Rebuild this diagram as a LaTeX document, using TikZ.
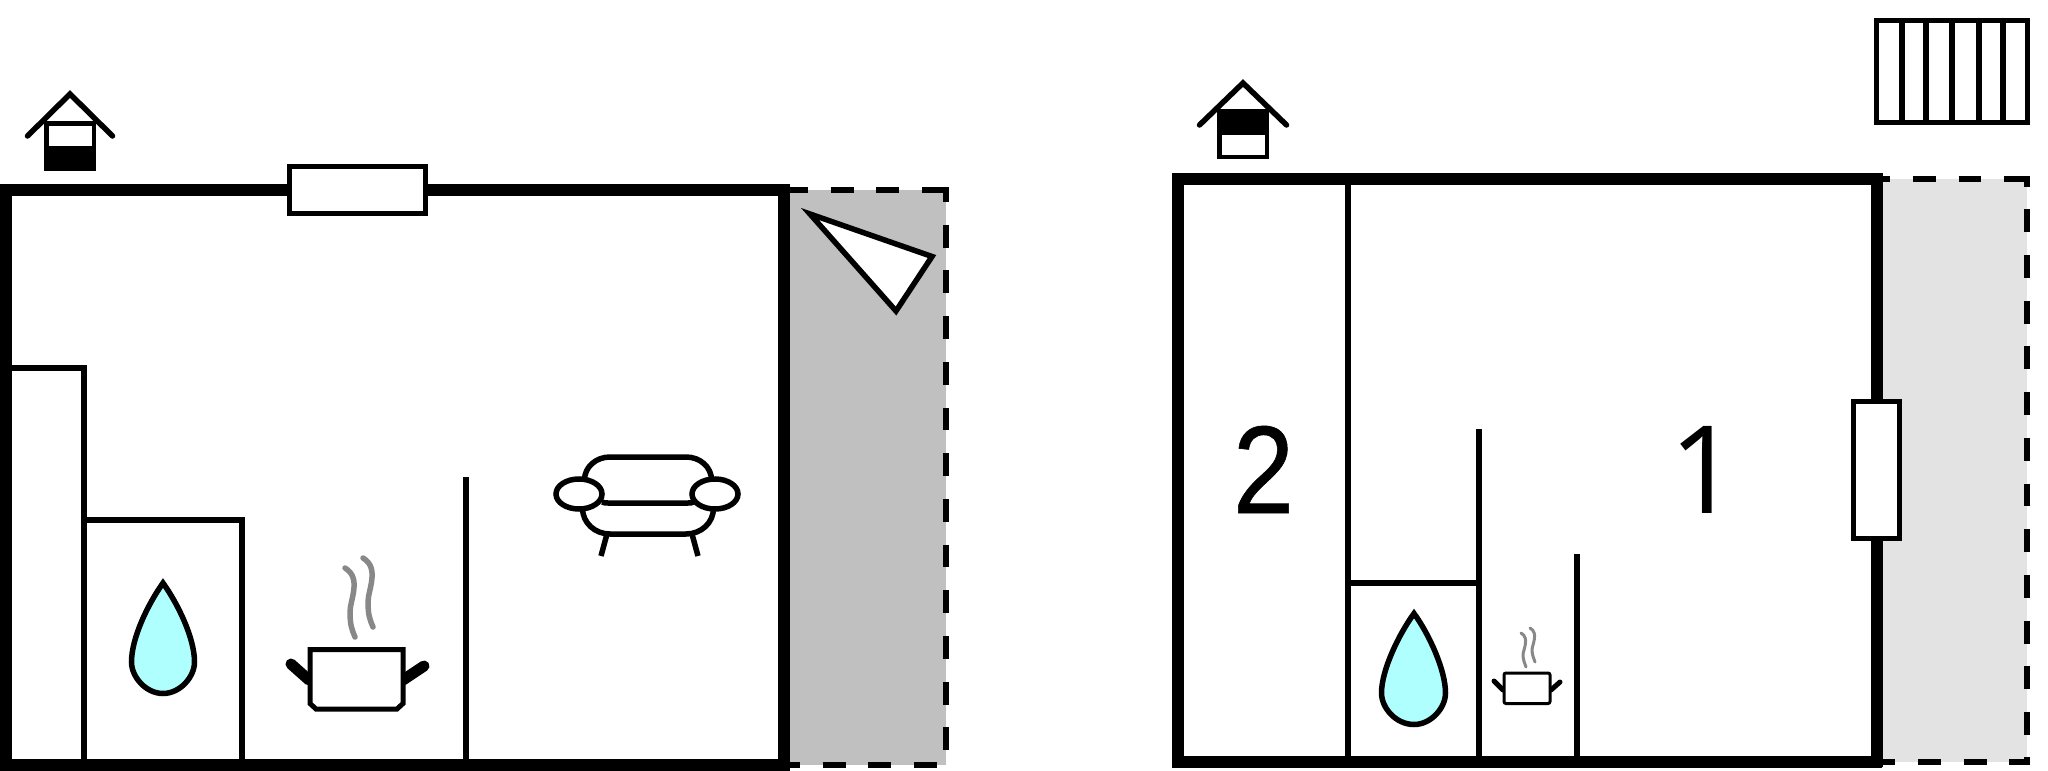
\documentclass[tikz,border=0pt]{standalone}
\usepackage{fontspec}
\newfontfamily\digittwo{Liberation Sans}[FakeBold=0.5]
\newfontfamily\digitone{Open Sans}
\tikzset{
  wall/.style={line width=12pt,line cap=butt,line join=miter},
  inner/.style={line width=6pt},
  fineline/.style={line width=5.5pt},
  win/.style={line width=5pt,fill=white},
  sofaarm/.style={line width=5.5pt,fill=white},
  dashwall/.style={line width=6pt,dash pattern=on 22.85pt off 22.85pt},
  drop/.style={line width=5.5pt,fill=dropblue,line join=miter},
  steam/.style={line width=5.5pt,draw=steamgray,line cap=round},
  steamsmall/.style={line width=3pt,draw=steamgray,line cap=round},
  digit/.style={inner sep=0pt},
}
\definecolor{dropblue}{HTML}{B0FFFF}
\definecolor{steamgray}{HTML}{888888}
\definecolor{terraceA}{HTML}{C0C0C0}
\definecolor{terraceB}{HTML}{E3E3E3}
\begin{document}
\begin{tikzpicture}[x=1pt,y=-1pt]
\useasboundingbox (0,0) rectangle (2048,771);
% LEFT PLAN
\fill[terraceA] (789,190) rectangle (945.5,765);
\draw[dashwall,dash phase=4pt] (789,190) -- (923,190);
\draw[line width=6pt] (923,190) -- (948.5,190);
\draw[dashwall,dash phase=11pt] (945.5,190) -- (945.5,765);
\draw[dashwall,dash phase=12pt] (789,765) -- (940,765);
\draw[wall] (5.75,771) -- (5.75,189.5) -- (783.5,189.5) -- (783.5,771);
\draw[line width=12pt] (0,765) -- (789,765);
\draw[inner,line join=miter] (0,368) -- (84,368) -- (84,765);
\draw[inner,line join=miter] (84,519.7) -- (242,519.7) -- (242,765);
\draw[inner] (466.3,477) -- (466.3,765);
\draw[win] (289.5,166.5) rectangle (425.5,213);
% house
\fill (44,121) rectangle (96,171);
\fill[white] (48.5,125.5) rectangle (91.5,146);
\draw[fineline,line cap=round] (27.5,136) -- (70,94) -- (112.5,136);
% terrace triangle
\draw[win,line width=5.5pt,line join=miter] (810,214) -- (932,256.5) -- (896,311) -- cycle;
% drop
\draw[drop] (163,583) .. controls (148,604) and (131.5,638) .. (131.5,662)
  .. controls (131.5,677) and (146,693.5) .. (163,693.5)
  .. controls (180,693.5) and (194.5,677) .. (194.5,662)
  .. controls (194.5,638) and (178,604) .. (163,583) -- cycle;
% pot
\draw[line width=11pt,line cap=round] (291,664) -- (309,680);
\draw[line width=11pt,line cap=round] (403,680) -- (424,666);
\draw[win] (310,649.5) -- (403,649.5) -- (403,703.5) -- (397,709) -- (316,709) -- (310,703.5) -- cycle;
\draw[steam] (345,568) .. controls (362,578) and (350,600) .. (350,612) .. controls (350,625) and (352,630) .. (355,637);
\draw[steam] (363,558) .. controls (380,568) and (368,590) .. (368,602) .. controls (368,615) and (370,620) .. (373,627);
% sofa
\draw[fineline] (584.5,480) .. controls (584.5,467) and (596,457) .. (610,457) -- (686,457) .. controls (700,457) and (711.5,467) .. (711.5,480);
\draw[fineline] (602,502) .. controls (604,503) and (606,503) .. (608,503) -- (688,503) .. controls (690,503) and (692,503) .. (694,502);
\draw[fineline] (582.5,508) .. controls (582.5,523) and (595,534) .. (610,534) -- (686,534) .. controls (701,534) and (713.5,523) .. (713.5,508);
\draw[fineline] (607,534) -- (601,556);
\draw[fineline] (692,534) -- (698,556);
\draw[sofaarm] (579,494) ellipse [x radius=23,y radius=15];
\draw[sofaarm] (715,494) ellipse [x radius=23,y radius=15];
% RIGHT PLAN
\fill[terraceB] (1882,178.5) rectangle (2027,761.5);
\draw[dashwall,dash phase=14.85pt] (1882,178.5) -- (2004,178.5);
\draw[line width=6pt] (2004,178.5) -- (2030,178.5);
\draw[line width=6pt] (2027,178.5) -- (2027,186.5);
\draw[dashwall,dash phase=14.85pt] (2027,178.5) -- (2027,750);
\draw[dashwall,dash phase=9.7pt] (1882,761.5) -- (2005,761.5);
\draw[line width=6pt] (2009,761.5) -- (2030,761.5);
\draw[line width=6pt] (2027,757) -- (2027,764);
\draw[wall,line join=miter] (1876.5,767) -- (1876.5,178.5) -- (1177.5,178.5) -- (1177.5,761.5) -- (1882,761.5);
\draw[inner] (1348,178) -- (1348,762);
\draw[inner] (1348,582.5) -- (1478.5,582.5);
\draw[inner] (1478.5,429) -- (1478.5,762);
\draw[inner] (1576.5,554) -- (1576.5,762);
\draw[win] (1853.5,401.5) rectangle (1899.5,538);
% house
\fill (1217,109) rectangle (1269,159);
\fill[white] (1221.5,134.5) rectangle (1264.5,154.5);
\draw[fineline,line cap=round] (1199.5,125) -- (1243,83) -- (1286.5,125);
% stairs
\draw[win] (1876.5,20.5) rectangle (2027.5,122.5);
\foreach \sx in {1902,1926,1952,1979,2003}{\draw[fineline] (\sx,20) -- (\sx,123);}
% drop
\draw[drop] (1414,613.5) .. controls (1399,634) and (1381.5,670) .. (1381.5,693)
  .. controls (1381.5,708) and (1396,724.5) .. (1414,724.5)
  .. controls (1431,724.5) and (1445.5,708) .. (1445.5,693)
  .. controls (1445.5,670) and (1429,634) .. (1414,613.5) -- cycle;
% small pot
\draw[line width=5pt,line cap=round] (1494,681) -- (1503,690);
\draw[line width=5pt,line cap=round] (1551,690) -- (1560,682);
\draw[line width=3pt,fill=white,rounded corners=2pt] (1504,673) rectangle (1550,703.5);
\draw[steamsmall] (1521,633) .. controls (1530,638) and (1523,650) .. (1523,655) .. controls (1523,660) and (1525,664) .. (1526,667);
\draw[steamsmall] (1530,628) .. controls (1539,633) and (1532,645) .. (1532,650) .. controls (1532,655) and (1534,659) .. (1535,662);
\node[digit,font=\digittwo\fontsize{125}{125}\selectfont,xscale=0.88] (roomtwo) at (1263.5,469.5) {2};
\node[digit,font=\digitone\fontsize{122}{122}\selectfont] (roomone) at (1704,469.5) {1};
\end{tikzpicture}
\end{document}
